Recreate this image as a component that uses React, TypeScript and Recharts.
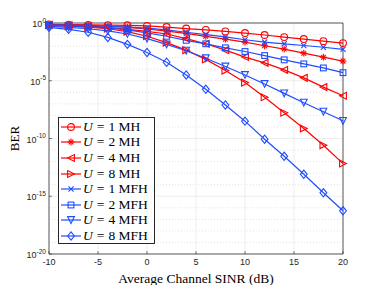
import { LineChart, Line, XAxis, YAxis, CartesianGrid, ReferenceArea } from "recharts";

// average channel SINR (dB)
const sinr = [-10, -8, -6, -4, -2, 0, 2, 4, 6, 8, 10, 12, 14, 16, 18, 20];

// log10(BER)
const mh1 = [-0.12, -0.14, -0.16, -0.18, -0.2, -0.25, -0.35, -0.48, -0.6, -0.73, -0.87, -1.04, -1.22, -1.39, -1.57, -1.74];
const mh2 = [-0.12, -0.15, -0.2, -0.28, -0.38, -0.52, -0.7, -0.9, -1.15, -1.4, -1.65, -1.97, -2.26, -2.61, -2.96, -3.3];
const mh4 = [-0.15, -0.2, -0.27, -0.37, -0.55, -0.72, -0.95, -1.35, -1.8, -2.35, -2.95, -3.45, -4.06, -4.75, -5.55, -6.3];
const mh8 = [-0.2, -0.27, -0.37, -0.5, -0.75, -1.15, -1.7, -2.35, -3.15, -4.12, -5.16, -6.43, -7.77, -9.13, -10.58, -12.17];
const mfh1 = [-0.15, -0.18, -0.22, -0.28, -0.35, -0.45, -0.6, -0.8, -1.0, -1.2, -1.45, -1.65, -1.8, -1.95, -2.1, -2.28];
const mfh2 = [-0.2, -0.25, -0.33, -0.43, -0.6, -0.85, -1.15, -1.5, -1.8, -2.15, -2.47, -2.82, -3.19, -3.54, -3.89, -4.3];
const mfh4 = [-0.3, -0.38, -0.5, -0.68, -0.95, -1.35, -1.85, -2.4, -3.05, -3.77, -4.5, -5.28, -6.09, -6.9, -7.68, -8.47];
const mfh8 = [-0.38, -0.55, -0.8, -1.25, -1.85, -2.55, -3.4, -4.5, -5.74, -7.1, -8.5, -10.06, -11.54, -13.1, -14.7, -16.26];

const xTicks = [-10, -5, 0, 5, 10, 15, 20];
const yTicks = [-20, -15, -10, -5, 0];
const minorY = [-19, -18, -17, -16, -14, -13, -12, -11, -9, -8, -7, -6, -4, -3, -2, -1];

const RED = "#ff0000";
const BLUE = "#1f4dff";

const series = [
  { key: "mh1", label: "1 MH", values: mh1, color: RED, shape: "circle" },
  { key: "mh2", label: "2 MH", values: mh2, color: RED, shape: "asterisk" },
  { key: "mh4", label: "4 MH", values: mh4, color: RED, shape: "left" },
  { key: "mh8", label: "8 MH", values: mh8, color: RED, shape: "right" },
  { key: "mfh1", label: "1 MFH", values: mfh1, color: BLUE, shape: "x" },
  { key: "mfh2", label: "2 MFH", values: mfh2, color: BLUE, shape: "square" },
  { key: "mfh4", label: "4 MFH", values: mfh4, color: BLUE, shape: "down" },
  { key: "mfh8", label: "8 MFH", values: mfh8, color: BLUE, shape: "diamond" },
];

const data = sinr.map((s, i) => {
  const row: Record<string, number> = { sinr: s };
  series.forEach((se) => (row[se.key] = se.values[i]));
  return row;
});

function Marker({ cx, cy, shape, color }: { cx: number; cy: number; shape: string; color: string }) {
  const r = 3.4;
  const p = { fill: "none", stroke: color, strokeWidth: 1.1 };
  switch (shape) {
    case "circle":
      return <circle cx={cx} cy={cy} r={r} {...p} />;
    case "asterisk":
      return (
        <g {...p}>
          <line x1={cx - r} y1={cy} x2={cx + r} y2={cy} />
          <line x1={cx} y1={cy - r} x2={cx} y2={cy + r} />
          <line x1={cx - r * 0.7} y1={cy - r * 0.7} x2={cx + r * 0.7} y2={cy + r * 0.7} />
          <line x1={cx - r * 0.7} y1={cy + r * 0.7} x2={cx + r * 0.7} y2={cy - r * 0.7} />
        </g>
      );
    case "x":
      return (
        <g {...p}>
          <line x1={cx - r * 0.75} y1={cy - r * 0.75} x2={cx + r * 0.75} y2={cy + r * 0.75} />
          <line x1={cx - r * 0.75} y1={cy + r * 0.75} x2={cx + r * 0.75} y2={cy - r * 0.75} />
        </g>
      );
    case "left":
      return <polygon points={`${cx - r},${cy} ${cx + r},${cy - r} ${cx + r},${cy + r}`} {...p} />;
    case "right":
      return <polygon points={`${cx + r},${cy} ${cx - r},${cy - r} ${cx - r},${cy + r}`} {...p} />;
    case "down":
      return <polygon points={`${cx - r},${cy - r} ${cx + r},${cy - r} ${cx},${cy + r}`} {...p} />;
    case "square":
      return <rect x={cx - r * 0.85} y={cy - r * 0.85} width={r * 1.7} height={r * 1.7} {...p} />;
    case "diamond":
      return <polygon points={`${cx},${cy - r * 1.2} ${cx + r},${cy} ${cx},${cy + r * 1.2} ${cx - r},${cy}`} {...p} />;
  }
  return null;
}

const makeDot = (shape: string, color: string) => (props: any) => (
  <Marker key={`${shape}-${props.index}`} cx={props.cx} cy={props.cy} shape={shape} color={color} />
);

const YTick = ({ x, y, payload }: any) => (
  <g>
    <line x1={x + 3} y1={y} x2={x + 6} y2={y} stroke="#262626" strokeWidth={0.6} />
    <text x={x} y={y} textAnchor="end" fontSize={9} fill="#262626" fontFamily="Liberation Sans">
      <tspan dy="0.45em">10</tspan>
      <tspan dy={-4.5} fontSize={6.5}>{payload.value}</tspan>
    </text>
  </g>
);

const XTick = ({ x, y, payload }: any) => (
  <g>
    <line x1={x} y1={y - 5} x2={x} y2={y - 8} stroke="#262626" strokeWidth={0.6} />
    <text x={x} y={y} dy="0.71em" textAnchor="middle" fontSize={9} fill="#262626" fontFamily="Liberation Sans">
      {payload.value}
    </text>
  </g>
);

const LegendBox = () => (
  <div
    style={{
      position: "absolute",
      left: 58,
      top: 117,
      width: 97,
      height: 127,
      border: "1px solid #262626",
      background: "#fff",
      boxSizing: "border-box",
      paddingTop: 1,
    }}
  >
    {series.map((se) => (
      <div key={se.key} style={{ display: "flex", alignItems: "center", height: 15.6 }}>
        <svg width={24} height={14} style={{ flex: "none" }}>
          <line x1={2} y1={7} x2={22} y2={7} stroke={se.color} strokeWidth={1.2} />
          <Marker cx={12} cy={7} shape={se.shape} color={se.color} />
        </svg>
        <span
          style={{
            fontFamily: "Liberation Serif",
            fontSize: 13.5,
            color: "#000",
            whiteSpace: "nowrap",
            lineHeight: "14px",
          }}
        >
          <i>U</i>
          <span style={{ margin: "0 4px" }}>=</span>
          {se.label}
        </span>
      </div>
    ))}
  </div>
);

export default function App() {
  return (
    <div style={{ position: "absolute", left: 0, top: 0, width: 379, height: 285, background: "#fff" }}>
      <LineChart width={379} height={285} data={data} margin={{ top: 23, right: 36, left: 0, bottom: 0 }}>
        <CartesianGrid
          horizontalValues={minorY}
          vertical={false}
          stroke="#cfcfcf"
          strokeDasharray="1 2"
          strokeWidth={0.6}
        />
        <CartesianGrid
          horizontalValues={[-15, -10, -5]}
          verticalValues={[-5, 0, 5, 10, 15]}
          stroke="#e2e2e2"
          strokeWidth={0.6}
        />
        <XAxis
          dataKey="sinr"
          type="number"
          domain={[-10, 20]}
          ticks={xTicks}
          height={31}
          axisLine={false}
          tickLine={false}
          tickSize={0}
          tickMargin={5}
          tick={<XTick />}
          interval={0}
          label={{
            value: "Average Channel SINR (dB)",
            position: "insideBottom",
            offset: 2,
            fontSize: 13.5,
            fill: "#000",
            fontFamily: "Liberation Serif",
          }}
        />
        <YAxis
          type="number"
          domain={[-20, 0]}
          ticks={yTicks}
          width={49}
          axisLine={false}
          tickLine={false}
          tickSize={0}
          tickMargin={3}
          tick={<YTick />}
          interval={0}
          label={{
            content: ({ viewBox }: any) => (
              <text
                x={viewBox.x + 14}
                y={viewBox.y + viewBox.height / 2}
                transform={`rotate(-90 ${viewBox.x + 14} ${viewBox.y + viewBox.height / 2})`}
                textAnchor="middle"
                dominantBaseline="central"
                fontSize={13}
                fontFamily="Liberation Serif"
                fill="#000"
              >
                BER
              </text>
            ),
          }}
        />
        <ReferenceArea x1={-10} x2={20} y1={-20} y2={0} fill="none" stroke="#262626" strokeWidth={0.8} />
        {series.map((se) => (
          <Line
            key={se.key}
            dataKey={se.key}
            type="linear"
            stroke={se.color}
            strokeWidth={1.2}
            dot={makeDot(se.shape, se.color)}
            activeDot={false}
            isAnimationActive={false}
          />
        ))}
      </LineChart>
      <LegendBox />
    </div>
  );
}
